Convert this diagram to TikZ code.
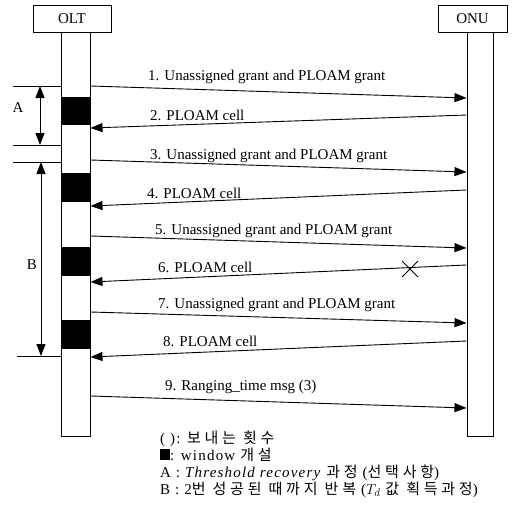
\documentclass[tikz,border=0pt]{standalone}
\usepackage{fontspec}
\setmainfont{Liberation Serif}
\newfontfamily\kr[LetterSpace=25]{Noto Sans CJK KR}
\usetikzlibrary{positioning, arrows.meta, shapes.misc, calc}

\begin{document}
\begin{tikzpicture}[x=1pt, y=-1pt,
    every node/.style={font=\fontsize{15}{17}\selectfont},
    entity/.style={draw, line width=1pt, minimum height=27pt, inner sep=0pt},
    lifebar/.style={draw, line width=1pt, minimum height=404pt, inner sep=0pt},
    msg/.style={anchor=base west, inner sep=0pt},
    legend/.style={anchor=base west, inner sep=0pt,
                   font=\fontsize{15}{17}\selectfont\addfontfeature{LetterSpace=8}},
    >={Triangle[length=12pt, width=9pt]},
  ]
  \useasboundingbox (0,0) rectangle (514,504);

  % entities and life lines
  \node[entity, minimum width=78pt] (olt) at (72,18.5) {OLT};
  \node[entity, minimum width=69pt] (onu) at (472.5,18.5) {ONU};
  \node[lifebar, minimum width=29pt] (oltbar) at (75.5,234) {};
  \node[lifebar, minimum width=26pt] (onubar) at (480,234) {};

  % window
  \foreach \a/\b in {97/125, 173/202, 247/276, 320/349}
    \fill (oltbar.west |- 0,\a) rectangle (oltbar.east |- 0,\b);

  % messages
  \foreach \n/\ya/\yb in {1/86/98, 3/160/172, 5/236/248, 7/312/323, 9/396/408} {
    \coordinate (s\n) at (oltbar.east |- 0,\ya);
    \coordinate (e\n) at (onubar.west |- 0,\yb);
    \draw[->, line width=0.9pt] (s\n) -- (e\n);
  }
  \foreach \n/\ya/\yb in {2/115/128, 4/190/206, 6/265/282, 8/341/357} {
    \coordinate (s\n) at (onubar.west |- 0,\ya);
    \coordinate (e\n) at (oltbar.east |- 0,\yb);
    \draw[->, line width=0.9pt] (s\n) -- (e\n);
  }

  \node[msg] (m1) at (148,80) {1. Unassigned grant and PLOAM grant};
  \node[msg] (m2) at (150,120) {2. PLOAM cell};
  \node[msg] (m3) at (150,159) {3. Unassigned grant and PLOAM grant};
  \node[msg] (m4) at (147,198) {4. PLOAM cell};
  \node[msg] (m5) at (155,234) {5. Unassigned grant and PLOAM grant};
  \node[msg] (m6) at (158,272) {6. PLOAM cell};
  \node[msg] (m7) at (158,308) {7. Unassigned grant and PLOAM grant};
  \node[msg] (m8) at (163,346) {8. PLOAM cell};
  \node[msg] (m9) at (165,390) {9. Ranging\_time msg (3)};

  \node[cross out, draw, line width=0.9pt, minimum size=15pt, inner sep=0pt] (lost) at (410,269) {};

  % A and B ranges
  \coordinate (atop) at (13,86);
  \coordinate (abot) at (13,145);
  \coordinate (btop) at (13,162);
  \coordinate (bbot) at (17,356);
  \foreach \c in {atop, abot, btop, bbot}
    \draw[line width=0.9pt] (\c) -- (oltbar.west |- \c);
  \draw[<->, line width=0.9pt] (40,86) -- (40,145);
  \draw[<->, line width=0.9pt] (41,162) -- (41,356);
  \node (la) at (18,108) {A};
  \node (lb) at (32,265) {B};

  % legend
  \node[legend] (l1) at (160,443) {( ): {\kr 보내는 횟수}};
  \node[legend] (l2) at (160,460) {\rule{10pt}{11pt}: window {\kr 개설}};
  \node[legend] (l3) at (160,477) {A : \textit{Threshold recovery} {\kr 과정} ({\kr 선택사항})};
  \node[legend] (l4) at (160,494) {B : 2{\kr 번 성공된 때까지 반복} ($T_d$ {\kr 값 획득과정})};
\end{tikzpicture}
\end{document}
